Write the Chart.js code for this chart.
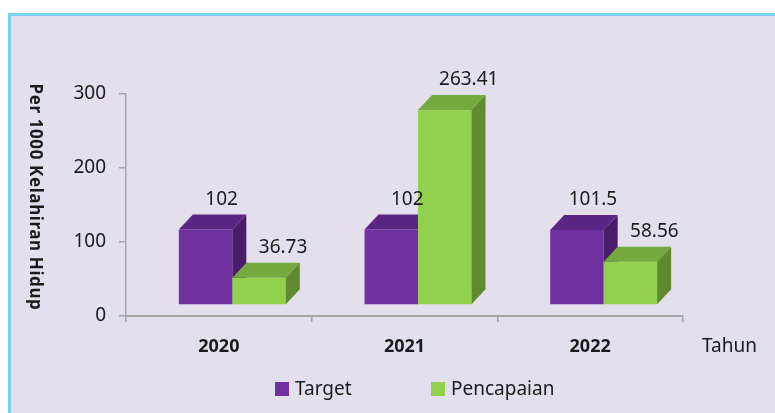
<!DOCTYPE html>
<html>
<head>
<meta charset="utf-8">
<script src="https://cdn.jsdelivr.net/npm/chart.js@4.4.1/dist/chart.umd.min.js"></script>
<style>
html, body { margin: 0; padding: 0; background: #fff; }
#wrap { width: 775px; height: 413px; }
</style>
</head>
<body>
<div id="wrap"><canvas id="chart"></canvas></div>
<script>
const years = ['2020', '2021', '2022'];
const target = [102, 102, 101.5];
const pencapaian = [36.73, 263.41, 58.56];
const seriesNames = ['Target', 'Pencapaian'];
const yTitle = 'Per 1000 Kelahiran Hidup';
const xTitle = 'Tahun';

const colors = {
    target: { front: '#7030a0', top: '#5b2586', side: '#4b1c6c' },
    pencapaian: { front: '#92d050', top: '#74a93d', side: '#5f8a2f' },
    frame: '#e4dfec',
    border: '#7cd0f0',
    axis: '#a6a6a6',
    text: '#1a1a1a',
};
const faces = [colors.target, colors.pencapaian];
const font = 'Noto Sans';

// 3D look: depth of the box, lift of the front face above the axis
const DEPTH_X = 14;
const DEPTH_Y = 15;
const LIFT = 11;
const SHIFT = 13.5;
const labelDx = [16, 24];

const frame = {
    id: 'frame',
    beforeDraw(chart) {
        const { ctx, width, height } = chart;
        ctx.save();
        ctx.fillStyle = '#fff';
        ctx.fillRect(0, 0, width, height);
        ctx.fillStyle = colors.frame;
        ctx.fillRect(10, 16, width - 10, height - 16);
        ctx.fillStyle = colors.border;
        ctx.fillRect(8, 13, width - 8, 3);
        ctx.fillRect(8, 13, 3, height - 13);
        ctx.restore();
    },
};

const bars3d = {
    id: 'bars3d',
    afterDatasetsDraw(chart) {
        const ctx = chart.ctx;
        ctx.save();
        chart.data.datasets.forEach((ds, i) => {
            const c = faces[i];
            chart.getDatasetMeta(i).data.forEach((bar) => {
                const left = bar.x - bar.width / 2 + SHIFT;
                const right = left + bar.width;
                const top = bar.y - LIFT;
                const bottom = bar.base - LIFT;
                ctx.fillStyle = c.front;
                ctx.fillRect(left, top, right - left, bottom - top);
                ctx.fillStyle = c.top;
                ctx.beginPath();
                ctx.moveTo(left, top);
                ctx.lineTo(left + DEPTH_X, top - DEPTH_Y);
                ctx.lineTo(right + DEPTH_X, top - DEPTH_Y);
                ctx.lineTo(right, top);
                ctx.closePath();
                ctx.fill();
                ctx.fillStyle = c.side;
                ctx.beginPath();
                ctx.moveTo(right, top);
                ctx.lineTo(right + DEPTH_X, top - DEPTH_Y);
                ctx.lineTo(right + DEPTH_X, bottom - DEPTH_Y);
                ctx.lineTo(right, bottom);
                ctx.closePath();
                ctx.fill();
            });
        });
        ctx.fillStyle = colors.text;
        ctx.font = `19px "${font}"`;
        ctx.textAlign = 'center';
        ctx.textBaseline = 'middle';
        chart.data.datasets.forEach((ds, i) => {
            chart.getDatasetMeta(i).data.forEach((bar, j) => {
                const cx = bar.x + SHIFT + labelDx[i];
                ctx.fillText(String(ds.data[j]), cx, bar.y - LIFT - 30);
            });
        });
        ctx.restore();
    },
};

const extras = {
    id: 'extras',
    afterDraw(chart) {
        const { ctx, chartArea } = chart;
        ctx.save();
        ctx.fillStyle = colors.text;
        ctx.textBaseline = 'middle';

        ctx.save();
        ctx.translate(35, 197);
        ctx.rotate(Math.PI / 2);
        ctx.textAlign = 'center';
        ctx.font = `bold 17px "${font}"`;
        ctx.letterSpacing = '0.6px';
        ctx.fillText(yTitle, 0, 0);
        ctx.restore();

        ctx.font = `19px "${font}"`;
        ctx.textAlign = 'left';
        ctx.fillText(xTitle, chartArea.right + 19, 347);

        // legend
        const legendX = [275, 431];
        chart.data.datasets.forEach((ds, i) => {
            ctx.fillStyle = ds.legendColor;
            ctx.fillRect(legendX[i], 382, 14, 14);
            ctx.fillStyle = colors.text;
            ctx.fillText(ds.label, legendX[i] + 20, 390);
        });
        ctx.restore();
    },
};

new Chart(document.getElementById('chart'), {
    type: 'bar',
    data: {
        labels: years,
        datasets: [
            {
                label: seriesNames[0],
                data: target,
                backgroundColor: 'transparent',
                legendColor: colors.target.front,
            },
            {
                label: seriesNames[1],
                data: pencapaian,
                backgroundColor: 'transparent',
                legendColor: colors.pencapaian.front,
            },
        ],
    },
    options: {
        responsive: true,
        maintainAspectRatio: false,
        animation: false,
        layout: { padding: { left: 0, top: 94, right: 92, bottom: 0 } },
        datasets: { bar: { categoryPercentage: 0.576, barPercentage: 1 } },
        plugins: {
            legend: { display: false },
            tooltip: { enabled: false },
        },
        scales: {
            x: {
                afterFit: (s) => { s.height = 97; },
                grid: { drawOnChartArea: false, offset: true, tickLength: 6, color: colors.axis, lineWidth: 1.5 },
                border: { color: colors.axis, width: 2 },
                ticks: { color: colors.text, padding: 14, font: { family: font, size: 18, weight: 'bold' } },
            },
            y: {
                min: 0,
                max: 300,
                afterFit: (s) => { s.width = 126; },
                grid: { drawOnChartArea: false, tickLength: 7, color: colors.axis, lineWidth: 1.5 },
                border: { color: colors.axis, width: 1.5 },
                ticks: { stepSize: 100, color: colors.text, padding: 13, font: { family: font, size: 19 } },
            },
        },
    },
    plugins: [frame, bars3d, extras],
});
</script>
</body>
</html>
